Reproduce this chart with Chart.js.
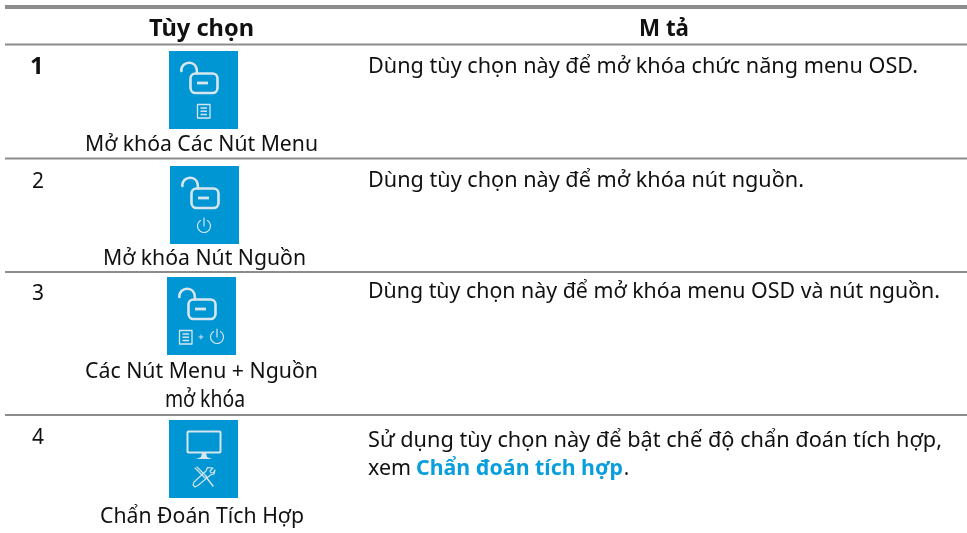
<!DOCTYPE html>
<html lang="vi">
<head>
<meta charset="utf-8">
<script src="https://cdn.jsdelivr.net/npm/chart.js@4"></script>
<style>html,body{margin:0;padding:0;background:#fff}canvas{display:block}</style>
</head>
<body>
<canvas id="c" width="967" height="533"></canvas>
<script>
// Table content
const headers = ["Tùy chọn", "M tả"];
const optionNumbers = ["1", "2", "3", "4"];
const optionLabels = [["Mở khóa Các Nút Menu"], ["Mở khóa Nút Nguồn"], ["Các Nút Menu + Nguồn", "mở khóa"], ["Chẩn Đoán Tích Hợp"]];
const descriptions = [
  "Dùng tùy chọn này để mở khóa chức năng menu OSD.",
  "Dùng tùy chọn này để mở khóa nút nguồn.",
  "Dùng tùy chọn này để mở khóa menu OSD và nút nguồn.",
  "Sử dụng tùy chọn này để bật chế độ chẩn đoán tích hợp,"
];
const linkParts = ["xem", "Chẩn đoán tích hợp", "."];
const iconKinds = ["menu", "power", "both", "diag"];

// Table geometry, on the chart's value scale
const ruleRows = [7, 44.5, 158.5, 272, 415];
const tileCols = [203.5, 204.5, 201.5, 203.5];
const tileRows = [90, 205, 316, 459];

const BLUE = "#0095d3", ICON = "#d6e6ee", RULE = "#8c8c8c", INK = "#111111", LINK = "#0a9fdc";
const FONT = '"Noto Sans", "Open Sans", sans-serif';

function makeTile(kind) {
  const cv = document.createElement("canvas");
  cv.width = 69; cv.height = 78;
  const g = cv.getContext("2d");
  g.fillStyle = BLUE; g.fillRect(0, 0, 69, 78);
  g.strokeStyle = ICON; g.fillStyle = ICON; g.lineCap = "round"; g.lineJoin = "round";

  const menu = (x, y) => {
    g.lineWidth = 1.3; g.lineCap = "butt";
    g.strokeRect(x, y, 12.5, 13.5);
    g.lineWidth = 1.5;
    [3.5, 6.7, 10].forEach(d => { g.beginPath(); g.moveTo(x + 3, y + d); g.lineTo(x + 9.5, y + d); g.stroke(); });
    g.lineCap = "round";
  };
  const power = (x, y) => {
    g.lineWidth = 1.2;
    g.beginPath(); g.arc(x, y, 6.5, -Math.PI * 0.32, Math.PI * 1.32); g.stroke();
    g.beginPath(); g.moveTo(x, y - 8); g.lineTo(x, y); g.stroke();
  };

  if (kind === "diag") {
    g.lineWidth = 2; g.lineCap = "butt";
    g.beginPath(); g.roundRect(18.5, 11.5, 33, 21, 1); g.stroke();
    g.beginPath(); g.moveTo(33, 33); g.lineTo(37, 33); g.lineTo(38, 37); g.lineTo(43, 39); g.lineTo(27, 39); g.lineTo(32, 37); g.closePath(); g.fill();
    g.lineCap = "round"; g.lineWidth = 1.1;
    g.beginPath(); g.moveTo(26, 48); g.lineTo(36, 58); g.moveTo(28, 47); g.lineTo(38, 57); g.stroke();
    g.lineWidth = 1.4;
    g.beginPath(); g.moveTo(37, 57); g.lineTo(44, 66); g.stroke();
    g.lineWidth = 1.1;
    g.beginPath(); g.moveTo(44, 48); g.lineTo(41, 51); g.lineTo(42, 53); g.lineTo(44.5, 52.5); g.lineTo(46, 50);
    g.lineTo(45, 54); g.lineTo(41.5, 55); g.lineTo(29.5, 65); g.lineTo(26, 67); g.lineTo(24, 65); g.lineTo(25, 62);
    g.lineTo(37, 51); g.lineTo(38.5, 47.5); g.closePath(); g.stroke();
    return cv;
  }
  g.lineWidth = 2.6;
  g.beginPath(); g.roundRect(21.5, 22.5, 27, 19.5, 5); g.stroke();
  g.beginPath(); g.moveTo(28, 32); g.lineTo(39, 32); g.lineWidth = 2.8; g.lineCap = "butt"; g.stroke();
  g.lineCap = "round"; g.lineWidth = 2.6;
  g.beginPath(); g.moveTo(12.5, 20); g.arc(20, 19.5, 7.8, Math.PI, Math.PI * 1.95); g.lineTo(28, 22.5); g.stroke();
  if (kind === "menu") menu(28.5, 53.5);
  if (kind === "power") power(34, 60);
  if (kind === "both") {
    menu(12.5, 53.5);
    g.lineWidth = 1; g.beginPath(); g.moveTo(32, 60); g.lineTo(36, 60); g.moveTo(34, 58); g.lineTo(34, 62); g.stroke();
    power(50, 60);
  }
  return cv;
}

// Text placements: [text, left x, baseline y, width, bold, colour, size]
const opt = (t, x, y, w, b, c, s) => ({ t, x, y, w, b: !!b, c: c || INK, s: s || 22 });
const texts = [
  opt(headers[0], 149, 36, 105, true, INK, 24),
  opt(headers[1], 639, 36, 50, true, INK, 24),
  opt(optionNumbers[0], 30, 74, 16, true, INK, 24),
  opt(optionNumbers[1], 32, 188, 12),
  opt(optionNumbers[2], 32, 300, 12),
  opt(optionNumbers[3], 32, 444, 12),
  opt(optionLabels[0][0], 85, 151, 233),
  opt(optionLabels[1][0], 103, 265, 203),
  opt(optionLabels[2][0], 85, 378, 233),
  opt(optionLabels[2][1], 165, 407, 80, false, INK, 23),
  opt(optionLabels[3][0], 100, 523, 204),
  opt(descriptions[0], 368, 73, 550),
  opt(descriptions[1], 368, 187, 436),
  opt(descriptions[2], 368, 298, 572),
  opt(descriptions[3], 368, 447, 574),
  opt(linkParts[0], 368, 475, 43),
  opt(linkParts[1], 416, 475, 207, true, LINK),
  opt(linkParts[2], 624, 475, 5)
];

const tablePlugin = {
  id: "tableText",
  afterDatasetsDraw(chart) {
    const { ctx, scales: { x, y } } = chart;
    ctx.save();
    ctx.textBaseline = "alphabetic"; ctx.textAlign = "left";
    texts.forEach(s => {
      ctx.font = (s.b ? "700 " : "400 ") + s.s + "px " + FONT;
      ctx.fillStyle = s.c;
      ctx.fillText(s.t, x.getPixelForValue(s.x), y.getPixelForValue(s.y), s.w);
    });
    ctx.restore();
  }
};

const ruleDatasets = ruleRows.map((r, i) => ({
  type: "line",
  data: [{ x: 5, y: r }, { x: 967, y: r }],
  borderColor: RULE,
  borderWidth: i === 0 ? 4 : 2,
  pointRadius: 0,
  fill: false,
  clip: false
}));

new Chart(document.getElementById("c"), {
  type: "scatter",
  data: {
    datasets: [
      ...ruleDatasets,
      {
        type: "scatter",
        data: tileRows.map((r, i) => ({ x: tileCols[i], y: r })),
        pointStyle: iconKinds.map(makeTile),
        pointRadius: 10,
        pointHoverRadius: 10
      }
    ]
  },
  options: {
    responsive: false,
    animation: false,
    layout: { padding: 0, autoPadding: false },
    plugins: { legend: { display: false }, tooltip: { enabled: false }, title: { display: false } },
    scales: {
      x: { type: "linear", min: 0, max: 967, display: false },
      y: { type: "linear", min: 0, max: 533, reverse: true, display: false }
    }
  },
  plugins: [tablePlugin]
});
</script>
</body>
</html>
